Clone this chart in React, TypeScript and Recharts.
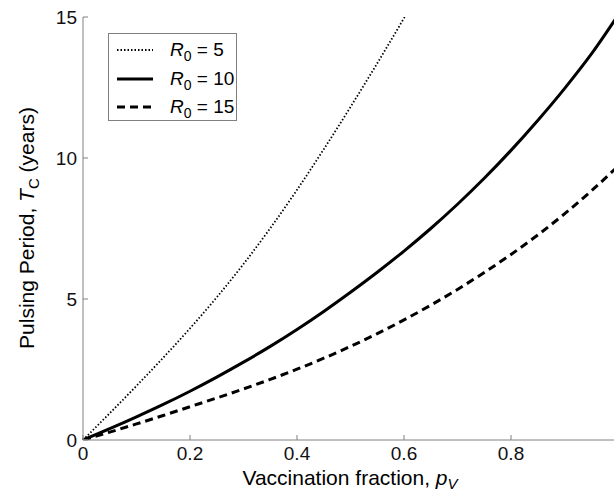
import { LineChart, Line, XAxis, YAxis, Legend, Label } from 'recharts';

// vaccination fraction p_V
const pV = [0, 0.05, 0.1, 0.15, 0.2, 0.25, 0.3, 0.35, 0.4, 0.45, 0.5, 0.55, 0.6, 0.65, 0.7, 0.75, 0.8, 0.85, 0.9, 0.95, 1.0];

// pulsing period T_c (years)
const tcR5 = [0, 0.95, 1.92, 2.92, 3.96, 5.06, 6.24, 7.51, 8.87, 10.31, 11.81, 13.36, 14.96, 16.61, null, null, null, null, null, null, null];
const tcR10 = [0, 0.4, 0.82, 1.26, 1.73, 2.23, 2.76, 3.32, 3.92, 4.56, 5.24, 5.95, 6.7, 7.5, 8.36, 9.28, 10.27, 11.33, 12.46, 13.68, 15.06];
const tcR15 = [0, 0.28, 0.57, 0.87, 1.18, 1.49, 1.81, 2.15, 2.51, 2.9, 3.32, 3.77, 4.26, 4.78, 5.34, 5.94, 6.58, 7.27, 8.02, 8.83, 9.71];

const xTicks = [0, 0.2, 0.4, 0.6, 0.8, 1];
const yTicks = [0, 5, 10, 15];

const legendItems = [
  { r0: '5', dash: '1.5 2', width: 1.8 },
  { r0: '10', dash: undefined, width: 3 },
  { r0: '15', dash: '8 5', width: 3 },
];

const data = pV.map((p, i) => ({ p, r5: tcR5[i], r10: tcR10[i], r15: tcR15[i] }));

const FONT = '"Liberation Sans", Arial, Helvetica, sans-serif';
const AXIS = '#808080';

function renderLegend() {
  return (
    <div
      style={{
        width: 129,
        height: 88,
        border: `1px solid ${AXIS}`,
        background: '#fff',
        boxSizing: 'border-box',
        position: 'relative',
        fontFamily: FONT,
        fontSize: 19,
        color: '#000',
      }}
    >
      {legendItems.map((it, i) => (
        <div
          key={it.r0}
          style={{ position: 'absolute', left: 8, top: 4 + i * 28.5, height: 24, display: 'flex', alignItems: 'center', whiteSpace: 'nowrap' }}
        >
          <svg width={36} height={10} style={{ marginRight: 17 }}>
            <line x1={0} y1={5} x2={36} y2={5} stroke="#000" strokeWidth={it.width} strokeDasharray={it.dash} />
          </svg>
          <span>
            <i>R</i>
            <span style={{ fontSize: 14, position: 'relative', top: 5 }}>0</span>
            {' = ' + it.r0}
          </span>
        </div>
      ))}
    </div>
  );
}

const XTitle = () => (
  <text x={350} y={485} textAnchor="middle" fontFamily={FONT} fontSize={21} fill="#000">
    Vaccination fraction,{' '}
    <tspan fontStyle="italic">p</tspan>
    <tspan dy={4} fontSize={15} fontStyle="italic">V</tspan>
  </text>
);

const YTitle = () => (
  <text x={34} y={228} transform="rotate(-90, 34, 228)" textAnchor="middle" fontFamily={FONT} fontSize={21} fill="#000">
    Pulsing Period,{' '}
    <tspan fontStyle="italic">T</tspan>
    <tspan dy={5} fontSize={15}>C</tspan>
    <tspan dy={-5}> (years)</tspan>
  </text>
);

export default function App() {
  return (
    <div style={{ position: 'absolute', left: 0, top: 0, width: 614, height: 491, overflow: 'hidden', background: '#fff' }}>
      <LineChart width={640} height={491} data={data} margin={{ top: 17, right: 22, bottom: 0, left: 0 }}>
        <XAxis
          dataKey="p"
          type="number"
          domain={[0, 1]}
          ticks={xTicks}
          height={51}
          stroke={AXIS}
          tickSize={-5}
          tickMargin={12}
          tick={{ fill: '#111', fontSize: 19, fontFamily: FONT }}
        >
          <Label content={XTitle} />
        </XAxis>
        <XAxis
          xAxisId="top"
          orientation="top"
          type="number"
          domain={[0, 1]}
          ticks={xTicks}
          height={0}
          mirror
          stroke={AXIS}
          tickSize={5}
          tickFormatter={() => ''}
        />
        <YAxis
          type="number"
          domain={[0, 15]}
          ticks={yTicks}
          allowDataOverflow
          width={83}
          stroke={AXIS}
          tickSize={-5}
          tickMargin={11}
          tick={{ fill: '#111', fontSize: 19, fontFamily: FONT }}
        >
          <Label content={YTitle} />
        </YAxis>
        <YAxis
          yAxisId="right"
          orientation="right"
          type="number"
          domain={[0, 15]}
          ticks={yTicks}
          width={0}
          mirror
          stroke={AXIS}
          tickSize={5}
          tickFormatter={() => ''}
        />
        <Legend
          layout="vertical"
          align="center"
          verticalAlign="middle"
          content={renderLegend}
          wrapperStyle={{ left: 108, top: 33, width: 129, height: 88 }}
        />
        <Line type="monotone" dataKey="r5" stroke="#000" strokeWidth={1.8} strokeDasharray="1.5 2" dot={false} isAnimationActive={false} />
        <Line type="monotone" dataKey="r10" stroke="#000" strokeWidth={3} dot={false} isAnimationActive={false} />
        <Line type="monotone" dataKey="r15" stroke="#000" strokeWidth={3} strokeDasharray="8 5" dot={false} isAnimationActive={false} />
      </LineChart>
    </div>
  );
}
